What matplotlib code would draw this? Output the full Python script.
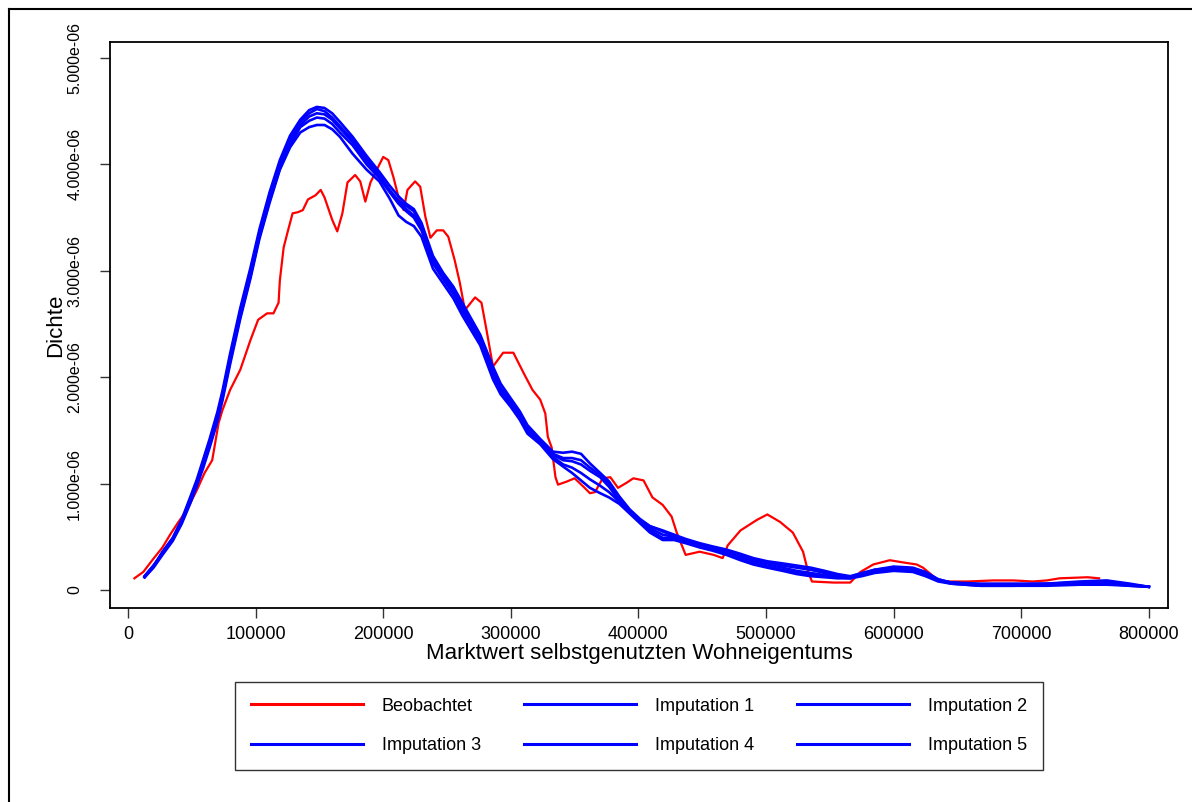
import matplotlib
matplotlib.use('Agg')
import matplotlib.pyplot as plt
from matplotlib.lines import Line2D

plt.rcParams['font.family'] = ['Liberation Sans', 'DejaVu Sans']

# x values in thousand euro, densities in units of 1e-6
obs_x = [5, 12, 19, 27, 33, 39, 46, 54, 60, 66, 68, 71, 74, 80, 88, 96, 102, 109, 114, 118,
         119, 122, 125, 129, 133, 137, 141, 147, 151, 154, 160, 164, 168, 172, 178, 182, 186, 190, 195, 200,
         204, 208, 212, 216, 219, 225, 229, 233, 237, 242, 247, 251, 256, 260, 264, 272, 277, 281, 286, 294,
         302, 310, 317, 323, 327, 329, 332, 335, 337, 344, 350, 357, 362, 366, 372, 378, 384, 391, 396, 404,
         411, 419, 426, 430, 437, 448, 459, 466, 470, 480, 493, 501, 511, 521, 529, 533, 536, 553, 566, 574,
         584, 597, 607, 618, 623, 636, 658, 678, 694, 709, 720, 730, 752, 761]
obs_y = [0.11, 0.17, 0.28, 0.40, 0.52, 0.63, 0.75, 0.94, 1.10, 1.22, 1.36, 1.57, 1.69, 1.88, 2.07, 2.35, 2.54, 2.60, 2.60, 2.70,
         2.91, 3.22, 3.36, 3.54, 3.55, 3.57, 3.67, 3.71, 3.76, 3.69, 3.48, 3.37, 3.54, 3.83, 3.90, 3.84, 3.65, 3.83, 3.95, 4.07,
         4.04, 3.88, 3.69, 3.57, 3.76, 3.84, 3.79, 3.51, 3.31, 3.38, 3.38, 3.32, 3.10, 2.89, 2.63, 2.75, 2.70, 2.44, 2.10, 2.23,
         2.23, 2.04, 1.88, 1.79, 1.66, 1.44, 1.34, 1.06, 0.99, 1.02, 1.05, 0.97, 0.91, 0.92, 1.05, 1.06, 0.96, 1.01, 1.05, 1.03,
         0.87, 0.80, 0.69, 0.54, 0.33, 0.36, 0.33, 0.30, 0.42, 0.56, 0.66, 0.71, 0.64, 0.54, 0.36, 0.17, 0.08, 0.07, 0.07, 0.17,
         0.24, 0.28, 0.26, 0.24, 0.21, 0.08, 0.08, 0.09, 0.09, 0.08, 0.09, 0.11, 0.12, 0.11]

imp_x = [13, 20, 27, 35, 42, 49, 54, 59, 64, 70, 74, 80, 88, 96, 103, 111, 119, 127,
         135, 142, 148, 154, 160, 166,
         176, 187, 197, 205, 212, 218, 224, 230,
         239, 247, 255, 262, 268, 276, 286, 292, 300, 307, 313,
         323, 333, 341, 348, 355, 362, 370, 377, 385, 393, 401, 409, 419,
         428, 437, 448, 458, 469, 480, 490, 501, 513, 524, 535, 546, 556,
         566, 575, 585, 600, 615, 625, 635, 645, 668, 694, 720, 746, 767, 785, 800]

imp1 = [0.12, 0.22, 0.36, 0.49, 0.66, 0.88, 1.04, 1.23, 1.42, 1.67, 1.87, 2.22, 2.65, 3.03, 3.39, 3.74, 4.04, 4.27,
        4.42, 4.51, 4.54, 4.53, 4.48, 4.40,
        4.26, 4.08, 3.93, 3.80, 3.70, 3.63, 3.58, 3.45,
        3.14, 2.98, 2.85, 2.70, 2.57, 2.40, 2.10, 1.94, 1.80, 1.68, 1.55,
        1.42, 1.30, 1.29, 1.30, 1.28, 1.19, 1.10, 1.02, 0.88, 0.76, 0.67, 0.60, 0.56,
        0.52, 0.48, 0.44, 0.41, 0.38, 0.34, 0.30, 0.27, 0.25, 0.23, 0.21, 0.18, 0.15,
        0.13, 0.16, 0.19, 0.22, 0.21, 0.17, 0.10, 0.07, 0.06, 0.06, 0.06, 0.08, 0.09, 0.06, 0.03]
imp2 = [0.12, 0.22, 0.35, 0.48, 0.65, 0.86, 1.02, 1.21, 1.40, 1.64, 1.84, 2.19, 2.62, 3.00, 3.36, 3.71, 4.01, 4.24,
        4.40, 4.48, 4.52, 4.50, 4.44, 4.36,
        4.23, 4.05, 3.90, 3.76, 3.66, 3.61, 3.56, 3.42,
        3.11, 2.95, 2.83, 2.67, 2.54, 2.37, 2.06, 1.90, 1.78, 1.66, 1.52,
        1.40, 1.28, 1.24, 1.24, 1.22, 1.15, 1.08, 1.00, 0.86, 0.75, 0.66, 0.60, 0.55,
        0.51, 0.47, 0.43, 0.40, 0.37, 0.33, 0.29, 0.26, 0.23, 0.21, 0.19, 0.16, 0.14,
        0.12, 0.15, 0.19, 0.21, 0.20, 0.16, 0.10, 0.07, 0.05, 0.05, 0.06, 0.07, 0.08, 0.05, 0.03]
imp3 = [0.13, 0.23, 0.35, 0.48, 0.64, 0.85, 1.01, 1.19, 1.38, 1.62, 1.82, 2.17, 2.60, 2.98, 3.34, 3.69, 3.98, 4.21,
        4.37, 4.45, 4.48, 4.47, 4.42, 4.34,
        4.21, 4.03, 3.89, 3.75, 3.64, 3.58, 3.52, 3.40,
        3.09, 2.93, 2.80, 2.64, 2.52, 2.35, 2.03, 1.88, 1.76, 1.64, 1.50,
        1.39, 1.27, 1.22, 1.21, 1.18, 1.12, 1.06, 0.97, 0.84, 0.74, 0.65, 0.58, 0.52,
        0.50, 0.46, 0.42, 0.39, 0.36, 0.31, 0.27, 0.24, 0.21, 0.18, 0.16, 0.14, 0.13,
        0.12, 0.15, 0.18, 0.20, 0.19, 0.15, 0.09, 0.07, 0.05, 0.05, 0.05, 0.06, 0.07, 0.05, 0.03]
imp4 = [0.13, 0.23, 0.34, 0.47, 0.63, 0.84, 1.00, 1.17, 1.36, 1.60, 1.80, 2.15, 2.57, 2.95, 3.32, 3.66, 3.96, 4.18,
        4.35, 4.41, 4.44, 4.43, 4.38, 4.30,
        4.18, 4.00, 3.87, 3.74, 3.63, 3.56, 3.50, 3.38,
        3.07, 2.92, 2.78, 2.62, 2.50, 2.33, 2.01, 1.86, 1.74, 1.62, 1.49,
        1.38, 1.25, 1.18, 1.15, 1.10, 1.04, 0.98, 0.92, 0.83, 0.73, 0.64, 0.56, 0.49,
        0.49, 0.45, 0.41, 0.38, 0.34, 0.29, 0.25, 0.22, 0.19, 0.16, 0.14, 0.13, 0.12,
        0.11, 0.14, 0.17, 0.19, 0.18, 0.14, 0.09, 0.06, 0.04, 0.04, 0.05, 0.06, 0.06, 0.04, 0.03]
imp5 = [0.12, 0.21, 0.33, 0.46, 0.62, 0.82, 0.98, 1.15, 1.34, 1.58, 1.78, 2.12, 2.55, 2.93, 3.30, 3.64, 3.95, 4.16,
        4.30, 4.35, 4.37, 4.37, 4.33, 4.26,
        4.10, 3.95, 3.84, 3.68, 3.52, 3.46, 3.42, 3.32,
        3.02, 2.88, 2.74, 2.58, 2.46, 2.30, 1.98, 1.84, 1.72, 1.60, 1.47,
        1.37, 1.23, 1.16, 1.10, 1.03, 0.96, 0.91, 0.87, 0.81, 0.72, 0.63, 0.54, 0.47,
        0.47, 0.44, 0.40, 0.37, 0.33, 0.28, 0.24, 0.21, 0.18, 0.15, 0.13, 0.12, 0.11,
        0.11, 0.13, 0.16, 0.18, 0.17, 0.13, 0.08, 0.06, 0.04, 0.04, 0.04, 0.05, 0.05, 0.04, 0.03]

series_labels = ['Beobachtet', 'Imputation 1', 'Imputation 2', 'Imputation 3', 'Imputation 4', 'Imputation 5']
xtick_vals = [0, 100000, 200000, 300000, 400000, 500000, 600000, 700000, 800000]
ytick_vals = [0, 1e-6, 2e-6, 3e-6, 4e-6, 5e-6]
ytick_labels = ['0', '1.000e-06', '2.000e-06', '3.000e-06', '4.000e-06', '5.000e-06']

fig = plt.figure(figsize=(11.92, 8.02), dpi=100)
ax = fig.add_axes([110 / 1192, 1 - 608 / 802, 1058 / 1192, 566 / 802])

# observed first, then the imputations on top
handles = []
h, = ax.plot([v * 1000 for v in obs_x], [v * 1e-6 for v in obs_y], color='#ff0000', lw=1.6)
handles.append(h)
for ys in [imp1, imp2, imp3, imp4, imp5]:
    h, = ax.plot([v * 1000 for v in imp_x], [v * 1e-6 for v in ys], color='#0000ff', lw=1.9)
    handles.append(h)

ax.set_xlim(-14100, 815000)
ax.set_ylim(-0.169e-6, 5.150e-6)

ax.set_xticks(xtick_vals)
ax.set_xticklabels([str(v) for v in xtick_vals], fontsize=13)
ax.set_yticks(ytick_vals)
ax.set_yticklabels(ytick_labels, fontsize=11.5, rotation=90, va='center')
ax.tick_params(axis='both', direction='out', length=7, width=1, color='#333333')
ax.tick_params(axis='x', pad=6)
ax.tick_params(axis='y', pad=13)
for s in ax.spines.values():
    s.set_linewidth(1.3)
    s.set_color('black')

ax.set_xlabel('Marktwert selbstgenutzten Wohneigentums', fontsize=16, labelpad=0)
ax.set_ylabel('Dichte', fontsize=16, labelpad=1)

# legend is filled row by row in the reference, matplotlib fills columns
order = [0, 3, 1, 4, 2, 5]
leg = fig.legend([handles[i] for i in order], [series_labels[i] for i in order], ncol=3, loc='center',
                 bbox_to_anchor=(639 / 1192, 1 - 726 / 802), fontsize=13,
                 handlelength=6.2, handletextpad=1.05, columnspacing=2.4,
                 labelspacing=1.25, borderpad=0.85, fancybox=False, frameon=True)
leg.get_frame().set_edgecolor('black')
leg.get_frame().set_linewidth(1.0)
for ln in leg.get_lines():
    ln.set_linewidth(2.2)

# outer frame lines on left and top
fig.add_artist(Line2D([9 / 1192, 9 / 1192], [0, 1 - 9 / 802], color='black', lw=1.5))
fig.add_artist(Line2D([9 / 1192, 1], [1 - 9 / 802, 1 - 9 / 802], color='black', lw=1.5))

fig.savefig('out.png', dpi=100)
